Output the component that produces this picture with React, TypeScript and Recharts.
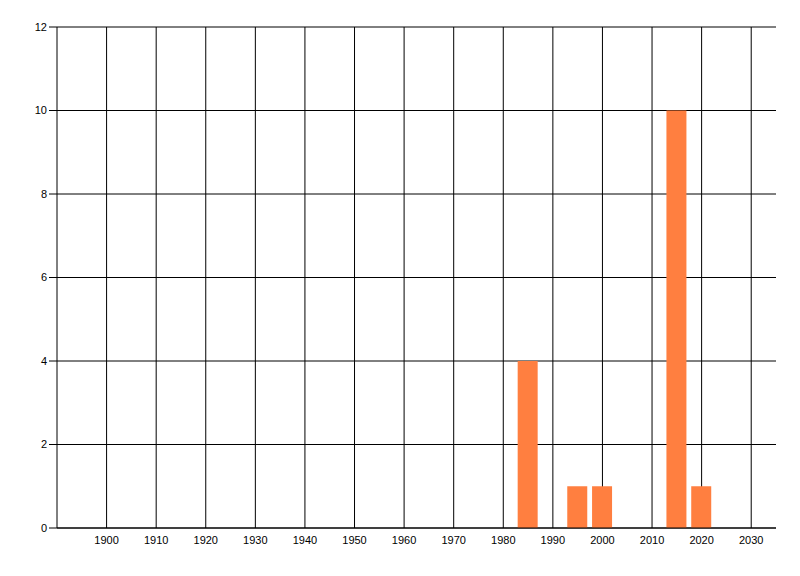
import { BarChart, Bar, XAxis, YAxis, CartesianGrid } from "recharts";

const years = [1985, 1995, 2000, 2015, 2020];
const counts = [4, 1, 1, 10, 1];
const xTicks = [1900, 1910, 1920, 1930, 1940, 1950, 1960, 1970, 1980, 1990, 2000, 2010, 2020, 2030];
const yTicks = [0, 2, 4, 6, 8, 10, 12];

const data = years.map((year, i) => ({ year, count: counts[i] }));

const tickStyle = { fontSize: 11, fill: "#000", fontFamily: "Tahoma, 'DejaVu Sans', 'Liberation Sans', sans-serif" };

export default function App() {
  return (
    <BarChart width={792} height={560} data={data} margin={{ top: 19, right: 24, left: 0, bottom: 0 }}>
      <CartesianGrid stroke="#000" strokeWidth={1} syncWithTicks />
      <XAxis
        dataKey="year"
        type="number"
        domain={[1890, 2035]}
        ticks={xTicks}
        allowDataOverflow
        height={40}
        tickLine={false}
        tickSize={6}
        tickMargin={2}
        axisLine={{ stroke: "#000" }}
        tick={{ ...tickStyle, fontFamily: "'Liberation Sans', Arial, sans-serif" }}
      />
      <YAxis
        type="number"
        domain={[0, 12]}
        ticks={yTicks}
        width={49}
        tickSize={8}
        tickMargin={2}
        tickLine={{ stroke: "#000" }}
        axisLine={{ stroke: "#000" }}
        tick={{ ...tickStyle, fontFamily: "'Liberation Sans', Arial, sans-serif" }}
      />
      <Bar dataKey="count" fill="#FF7F40" barSize={20} isAnimationActive={false} />
    </BarChart>
  );
}
